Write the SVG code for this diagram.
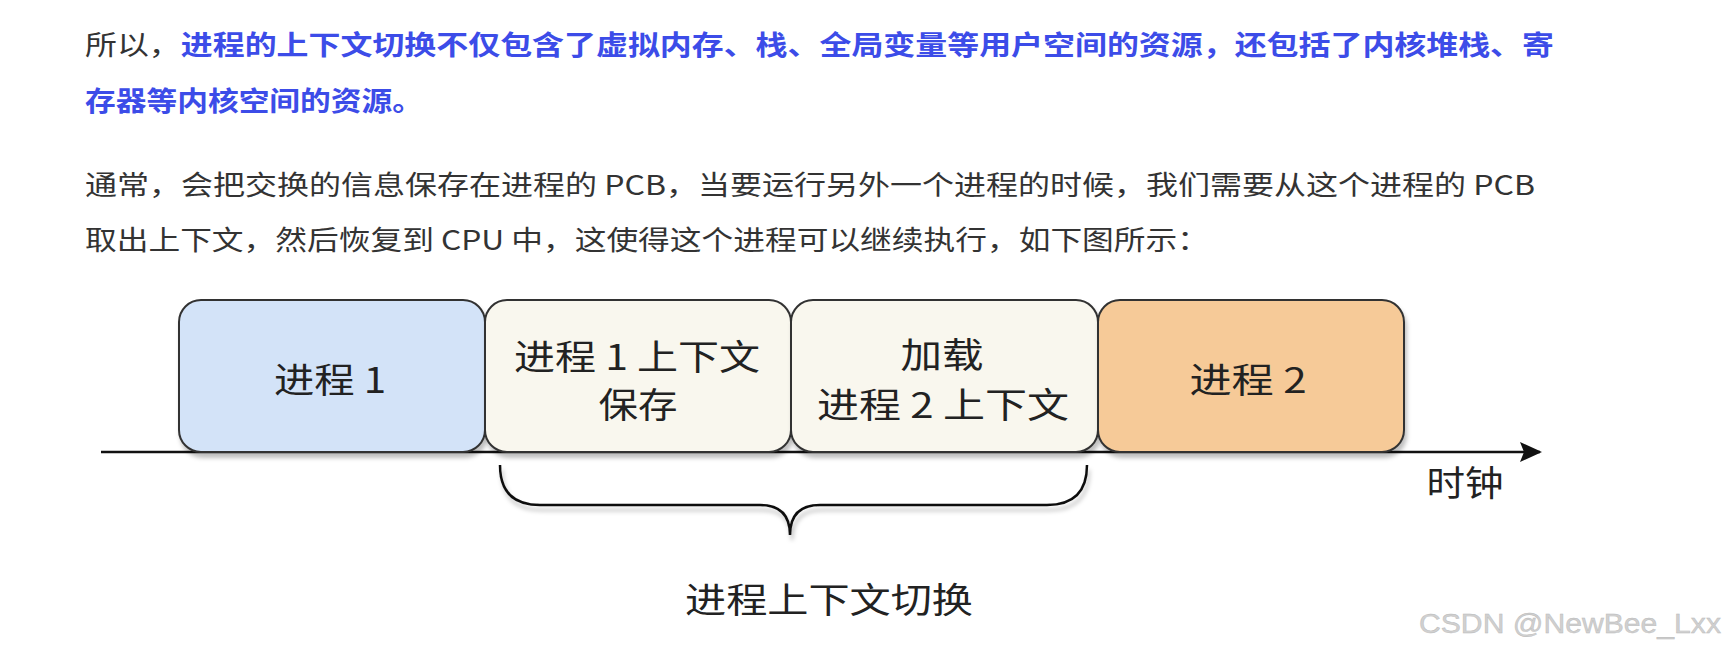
<svg xmlns="http://www.w3.org/2000/svg" width="1728" height="650" viewBox="0 0 1728 650">
<defs>
<style>
.p{font-family:"Noto Sans CJK SC","Noto Sans",sans-serif;font-size:27px;fill:#333333}
.b{fill:#3c4ce8;font-weight:bold}
.box{stroke:#333333;stroke-width:2}
.lbl{font-family:"Noto Sans CJK SC","Noto Sans",sans-serif;font-size:35px;fill:#222222;text-anchor:middle}
.wm{font-family:"Liberation Sans",Arial,sans-serif;font-size:27px;fill:#d0d0d0;stroke:#b8b8b8;stroke-width:0.4}
</style>
<filter id="sh" x="-10%" y="-10%" width="130%" height="140%">
<feDropShadow dx="2" dy="5" stdDeviation="2" flood-color="#000" flood-opacity="0.25"/>
</filter>
<marker id="arr" markerWidth="22" markerHeight="20" refX="20" refY="10" orient="auto" markerUnits="userSpaceOnUse">
<path d="M0,0 L22,10 L0,20 L4,10 Z" fill="#111"/>
</marker>
</defs>
<rect width="1728" height="650" fill="#ffffff"/>

<text class="p" x="85" y="55" textLength="1469" lengthAdjust="spacingAndGlyphs">所以，<tspan class="b">进程的上下文切换不仅包含了虚拟内存、栈、全局变量等用户空间的资源，还包括了内核堆栈、寄</tspan></text>
<text class="p b" x="85" y="111" textLength="338" lengthAdjust="spacingAndGlyphs">存器等内核空间的资源。</text>
<text class="p" x="85" y="195" textLength="1450" lengthAdjust="spacingAndGlyphs">通常，会把交换的信息保存在进程的 PCB，当要运行另外一个进程的时候，我们需要从这个进程的 PCB</text>
<text class="p" x="85" y="250" textLength="1124" lengthAdjust="spacingAndGlyphs">取出上下文，然后恢复到 CPU 中，这使得这个进程可以继续执行，如下图所示：</text>

<g id="connectors">
<line x1="101" y1="452" x2="1540" y2="452" stroke="#111" stroke-width="2.5" marker-end="url(#arr)"/>
<path d="M500,465 Q500,505 540,505 L760,505 Q790,505 790,535 Q790,505 820,505 L1047,505 Q1087,505 1087,465" fill="none" stroke="#111" stroke-width="2.5" filter="url(#sh)"/>
</g>

<g id="node-p1">
<rect class="box" x="179" y="300" width="306" height="152" rx="22" fill="#d3e3f8" filter="url(#sh)"/>
<text class="lbl" x="330" y="393" textLength="112" lengthAdjust="spacingAndGlyphs">进程 1</text>
</g>
<g id="node-save">
<rect class="box" x="485" y="300" width="306" height="152" rx="22" fill="#f9f7ee" filter="url(#sh)"/>
<text class="lbl" x="637" y="370" textLength="246" lengthAdjust="spacingAndGlyphs">进程 1 上下文</text>
<text class="lbl" x="638" y="418" textLength="79" lengthAdjust="spacingAndGlyphs">保存</text>
</g>
<g id="node-load">
<rect class="box" x="791" y="300" width="307" height="152" rx="22" fill="#f9f7ee" filter="url(#sh)"/>
<text class="lbl" x="942" y="368" textLength="83" lengthAdjust="spacingAndGlyphs">加载</text>
<text class="lbl" x="943" y="418" textLength="252" lengthAdjust="spacingAndGlyphs">进程 2 上下文</text>
</g>
<g id="node-p2">
<rect class="box" x="1098" y="300" width="306" height="152" rx="22" fill="#f6ca98" filter="url(#sh)"/>
<text class="lbl" x="1248" y="393" textLength="117" lengthAdjust="spacingAndGlyphs">进程 2</text>
</g>

<g id="clock">
<text class="lbl" x="1465" y="496" textLength="77" lengthAdjust="spacingAndGlyphs">时钟</text>
</g>
<g id="switch-label">
<text class="lbl" x="829" y="613" font-size="37" textLength="288" lengthAdjust="spacingAndGlyphs">进程上下文切换</text>
</g>
<text class="wm" x="1419" y="633" textLength="302" lengthAdjust="spacingAndGlyphs">CSDN @NewBee_Lxx</text>
</svg>
